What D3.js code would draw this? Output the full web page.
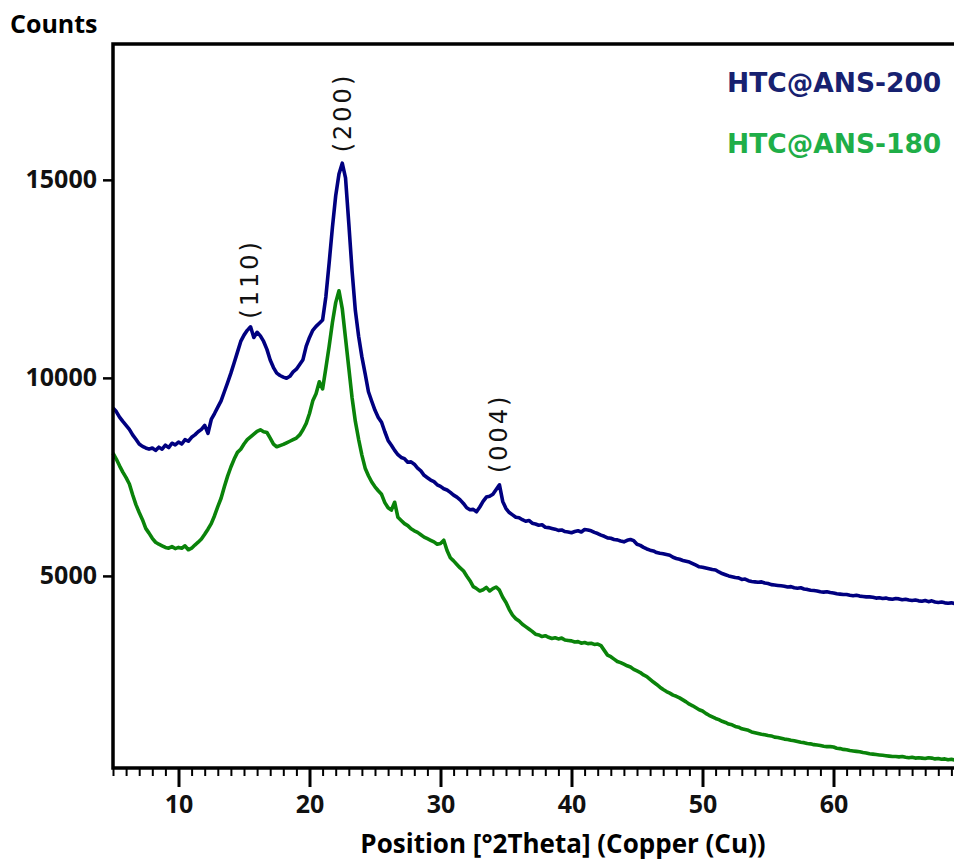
<!DOCTYPE html>
<html>
<head>
<meta charset="utf-8">
<script src="https://cdn.jsdelivr.net/npm/d3@7"></script>
<style>
  body { margin: 0; background: #fff; }
  svg { display: block; }
  .tick text { font-family: "Open Sans", sans-serif; font-weight: 700; font-size: 25px; fill: #111; }
</style>
</head>
<body>
<svg id="chart" width="954" height="862"></svg>
<script>
// measurement grid: 5 to 70 deg 2theta, 0.25 deg steps
const angleStart = 5, angleEnd = 70, angleStep = 0.25;

// HTC@ANS-200 counts, one row per degree (x.00, x.25, x.50, x.75)
const ans200 = [
  9240, 9150, 9010, 8900,   // 5
  8800, 8700, 8560, 8450,   // 6
  8330, 8270, 8230, 8200,
  8230, 8170, 8250, 8200,
  8300, 8240, 8350, 8310,
  8380, 8330, 8440, 8400,   // 10
  8500, 8560, 8640, 8700,
  8800, 8600, 8950, 9100,
  9260, 9420, 9650, 9880,
  10120, 10380, 10650, 10920,
  11080, 11200, 11290, 11020, // 15
  11150, 11060, 10920, 10720,
  10450, 10260, 10120, 10060,
  10020, 9990, 10040, 10150,
  10220, 10340, 10460, 10800,
  11020, 11200, 11300, 11380, // 20
  11460, 12050, 12900, 13800,
  14600, 15150, 15420, 15050,
  13900, 12700, 11700, 11050,
  10530, 10100, 9650, 9410,
  9180, 9000, 8880, 8640,   // 25
  8420, 8300, 8170, 8060,
  7990, 7960, 7870, 7880,
  7820, 7720, 7650, 7540,
  7480, 7420, 7380, 7300,
  7260, 7200, 7170, 7110,   // 30
  7040, 6990, 6920, 6830,
  6720, 6670, 6680, 6620,
  6740, 6880, 6990, 7010,
  7060, 7180, 7300, 6880,
  6700, 6600, 6540, 6480,   // 35
  6470, 6420, 6380, 6400,
  6330, 6310, 6280, 6290,
  6230, 6220, 6200, 6180,
  6150, 6160, 6120, 6110,
  6090, 6120, 6140, 6110,   // 40
  6170, 6160, 6140, 6100,
  6070, 6030, 6000, 5960,
  5950, 5920, 5910, 5880,
  5860, 5900, 5920, 5890,
  5800, 5770, 5720, 5680,   // 45
  5650, 5630, 5590, 5570,
  5560, 5540, 5520, 5470,
  5440, 5420, 5390, 5370,
  5350, 5310, 5270, 5230,
  5220, 5200, 5180, 5160,   // 50
  5150, 5100, 5060, 5030,
  5000, 4980, 4960, 4950,
  4910, 4920, 4880, 4860,
  4850, 4840, 4850, 4820,
  4810, 4780, 4770, 4760,   // 55
  4750, 4740, 4720, 4730,
  4700, 4690, 4700, 4670,
  4660, 4640, 4630, 4620,
  4600, 4590, 4600, 4580,
  4570, 4550, 4540, 4530,   // 60
  4530, 4510, 4500, 4510,
  4490, 4480, 4470, 4470,
  4460, 4440, 4450, 4430,
  4440, 4420, 4410, 4430,
  4420, 4400, 4410, 4390,   // 65
  4380, 4390, 4370, 4360,
  4380, 4350, 4370, 4340,
  4330, 4340, 4320, 4310,
  4320, 4300, 4310, 4290,
  4290                      // 70
];

// HTC@ANS-180 counts, same grid
const ans180 = [
  8100, 7950, 7780, 7620,   // 5
  7480, 7320, 7050, 6800,
  6600, 6420, 6200, 6080,
  5950, 5850, 5800, 5760,
  5720, 5700, 5740, 5690,
  5720, 5700, 5760, 5660,   // 10
  5700, 5780, 5850, 5930,
  6050, 6180, 6320, 6520,
  6750, 6960, 7250, 7520,
  7750, 7950, 8120, 8200,
  8330, 8440, 8510, 8580,   // 15
  8650, 8690, 8640, 8620,
  8480, 8330, 8260, 8290,
  8320, 8360, 8400, 8440,
  8480, 8560, 8690, 8850,
  9100, 9420, 9600, 9900,   // 20
  9720, 10250, 10800, 11400,
  11900, 12200, 11750, 11000,
  10250, 9500, 8900, 8450,
  8050, 7720, 7530, 7370,
  7250, 7150, 7060, 6850,   // 25
  6720, 6660, 6860, 6480,
  6400, 6320, 6270, 6190,
  6140, 6100, 6040, 5980,
  5940, 5900, 5860, 5800,
  5820, 5900, 5640, 5460,   // 30
  5380, 5290, 5200, 5130,
  5000, 4880, 4730, 4680,
  4620, 4650, 4710, 4620,
  4680, 4720, 4640, 4460,
  4330, 4150, 4010, 3920,   // 35
  3860, 3780, 3720, 3660,
  3600, 3530, 3510, 3470,
  3490, 3450, 3420, 3440,
  3410, 3430, 3380, 3370,
  3360, 3330, 3340, 3300,   // 40
  3320, 3290, 3300, 3270,
  3280, 3240, 3120, 3000,
  2960, 2900, 2840, 2810,
  2770, 2730, 2700, 2640,
  2600, 2560, 2500, 2460,   // 45
  2390, 2320, 2260, 2190,
  2130, 2080, 2040, 1990,
  1960, 1920, 1870, 1820,
  1760, 1720, 1670, 1620,
  1590, 1530, 1480, 1440,   // 50
  1400, 1370, 1330, 1300,
  1260, 1240, 1200, 1180,
  1140, 1120, 1100, 1060,
  1040, 1020, 1000, 990,
  970, 960, 930, 920,       // 55
  900, 880, 870, 850,
  840, 820, 800, 790,
  770, 760, 740, 730,
  720, 700, 690, 690,
  680, 650, 640, 620,       // 60
  610, 590, 580, 570,
  560, 540, 530, 510,
  500, 490, 480, 470,
  460, 450, 440, 440,
  430, 440, 420, 410,       // 65
  420, 400, 410, 400,
  390, 410, 400, 380,
  390, 370, 380, 360,
  370, 350, 360, 340,
  330                       // 70
];

const seriesNames = ["HTC@ANS-200", "HTC@ANS-180"];
const seriesColors = ["#000080", "#0a830a"];
const legendColors = ["#172170", "#1fae48"];

const xMajorTicks = [10, 20, 30, 40, 50, 60];
const yTicks = [5000, 10000, 15000];

// peak labels (hkl) with position in 2theta and count where label sits
const peakLabels = ["(110)", "(200)", "(004)"];
const peakAngles = [15.4, 22.5, 34.4];
const peakCounts = [12500, 16700, 8600];

const svg = d3.select("#chart");
const plotLeft = 113, plotTop = 44, plotBottom = 768;

const x = d3.scaleLinear().domain([5, 70]).range([plotLeft, plotLeft + 65 * 13.1]);
const y = d3.scaleLinear().domain([150, 18430]).range([plotBottom, plotTop]);

const angles = d3.range(angleStart, angleEnd + angleStep / 2, angleStep);

// plot lines (blue drawn over green)
const line = d3.line().x(d => x(d[0])).y(d => y(d[1]));
[ans180, ans200].forEach((vals, i) => {
  const idx = i === 0 ? 1 : 0;
  svg.append("path")
    .datum(angles.map((a, k) => [a, vals[k]]))
    .attr("fill", "none")
    .attr("stroke", seriesColors[idx])
    .attr("stroke-width", 3.6)
    .attr("stroke-linejoin", "round")
    .attr("d", line);
});

// x axis: minor ticks every degree, major every 10
const xMinor = svg.append("g").attr("transform", `translate(0,${plotBottom})`)
  .call(d3.axisBottom(x).tickValues(d3.range(5, 71)).tickSize(8).tickSizeOuter(0).tickFormat(""));
xMinor.select(".domain").remove();
xMinor.selectAll(".tick line").attr("stroke", "#000").attr("stroke-width", 2);

const xMajor = svg.append("g").attr("transform", `translate(0,${plotBottom})`)
  .call(d3.axisBottom(x).tickValues(xMajorTicks).tickSize(19).tickSizeOuter(0).tickPadding(8).tickFormat(d3.format("d")));
xMajor.select(".domain").remove();
xMajor.selectAll(".tick line").attr("stroke", "#000").attr("stroke-width", 3);

const yAxis = svg.append("g").attr("transform", `translate(${plotLeft},0)`)
  .call(d3.axisLeft(y).tickValues(yTicks).tickSize(10).tickSizeOuter(0).tickPadding(6).tickFormat(d3.format("d")));
yAxis.select(".domain").remove();
yAxis.selectAll(".tick line").attr("stroke", "#000").attr("stroke-width", 2.5);

// frame: left, top, bottom
svg.append("path")
  .attr("d", `M960,${plotTop}H${plotLeft}V${plotBottom}H960`)
  .attr("fill", "none")
  .attr("stroke", "#000")
  .attr("stroke-width", 3.5);

// axis titles
svg.append("text")
  .attr("x", 10).attr("y", 33)
  .style("font-family", "'Open Sans', sans-serif")
  .style("font-weight", 700).style("font-size", "25px")
  .text("Counts");

svg.append("text")
  .attr("x", 563).attr("y", 853)
  .attr("text-anchor", "middle")
  .style("font-family", "'Open Sans', sans-serif")
  .style("font-weight", 700).style("font-size", "26px")
  .text("Position [°2Theta] (Copper (Cu))");

// legend
seriesNames.forEach((name, i) => {
  svg.append("text")
    .attr("x", 727).attr("y", 92 + i * 61)
    .attr("fill", legendColors[i])
    .style("font-family", "'DejaVu Sans', sans-serif")
    .style("font-weight", 700).style("font-size", "26.5px")
    .text(name);
});

// peak annotations, rotated
peakLabels.forEach((lab, i) => {
  svg.append("text")
    .attr("transform", `translate(${x(peakAngles[i]) + 9},${y(peakCounts[i])}) rotate(-90)`)
    .attr("text-anchor", "middle")
    .style("font-family", "'DejaVu Sans', sans-serif")
    .style("font-size", "24px")
    .style("letter-spacing", "3px")
    .attr("fill", "#111")
    .text(lab);
});
</script>
</body>
</html>
